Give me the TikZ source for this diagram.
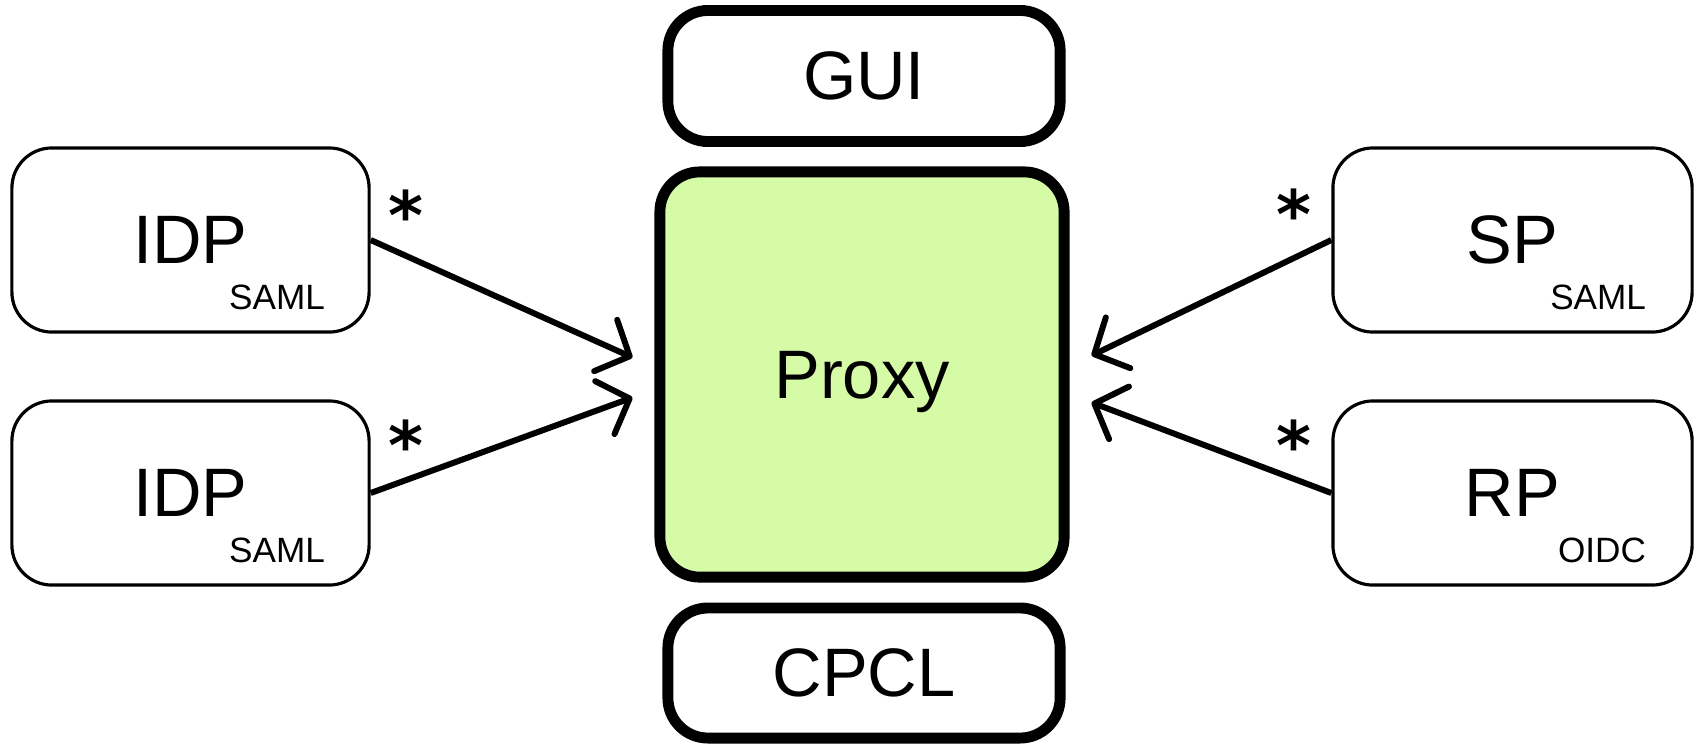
\documentclass[tikz,border=0pt]{standalone}
\usepackage{fontspec}
\setmainfont{Liberation Sans}
\newfontfamily\starfont{DejaVu Sans}
\usetikzlibrary{arrows.meta,calc}
\definecolor{proxygreen}{RGB}{213,251,166}

\begin{document}
\begin{tikzpicture}[x=0.01cm, y=-0.01cm,
  box/.style={draw, line width=0.9pt, rounded corners=0.4cm, minimum width=3.57cm, minimum height=1.84cm, inner sep=0pt, text depth=0pt, font=\fontsize{19.5}{23}\selectfont},
  core/.style={box, line width=3.1pt, minimum width=3.92cm, minimum height=1.31cm},
  sub/.style={anchor=base east, inner sep=0pt, font=\fontsize{10}{12}\selectfont},
  star/.style={inner sep=0pt, font=\starfont\bfseries\fontsize{19}{23}\selectfont},
  link/.style={line width=1.7pt, -{Straight Barb[length=7.5pt,width=16pt,round]}}]
\useasboundingbox (0,0) rectangle (1698,745);
\node[box] (idp0) at (190.5,240) {IDP}; % IDP.0
\node[box] (idp1) at (190.5,493) {IDP}; % IDP.1
\node[box, minimum width=3.59cm] (sp0) at (1512.5,240) {SP}; % SP.0
\node[box, minimum width=3.59cm] (rp0) at (1512.5,493) {RP}; % RP.0
\node[core] (gui) at (864,76) {GUI}; % GUI
\node[core, fill=proxygreen, minimum width=4.04cm, minimum height=4.05cm] (proxy) at (862,374.5) {Proxy}; % Proxy
\node[core, minimum height=1.30cm] (cpcl) at (864,673) {CPCL}; % CPCL
\node[sub] (idp0p) at ($(idp0.south east)+(-45,-24)$) {SAML}; % IDP.0
\node[sub] (idp1p) at ($(idp1.south east)+(-45,-24)$) {SAML}; % IDP.1
\node[sub] (sp0p) at ($(sp0.south east)+(-47,-24)$) {SAML}; % SP.0
\node[sub] (rp0p) at ($(rp0.south east)+(-47,-24)$) {OIDC}; % RP.0
\coordinate (in0) at ($(proxy.west)+(-22,-17)$); % IDP.0
\coordinate (in1) at ($(proxy.west)+(-22,23)$); % IDP.1
\coordinate (in2) at ($(proxy.east)+(22,-19)$); % SP.0
\coordinate (in3) at ($(proxy.east)+(22,28)$); % RP.0
\draw[link] (idp0.east) -- (in0); % IDP.0 -> Proxy
\draw[link] (idp1.east) -- (in1); % IDP.1 -> Proxy
\draw[link] (sp0.west) -- (in2); % SP.0 -> Proxy
\draw[link] (rp0.west) -- (in3); % RP.0 -> Proxy
\node[star] (st0) at (406,215) {*}; % IDP.0
\node[star] (st1) at (406,445) {*}; % IDP.1
\node[star] (st2) at (1294,214) {*}; % SP.0
\node[star] (st3) at (1294,445) {*}; % RP.0
\end{tikzpicture}
\end{document}
